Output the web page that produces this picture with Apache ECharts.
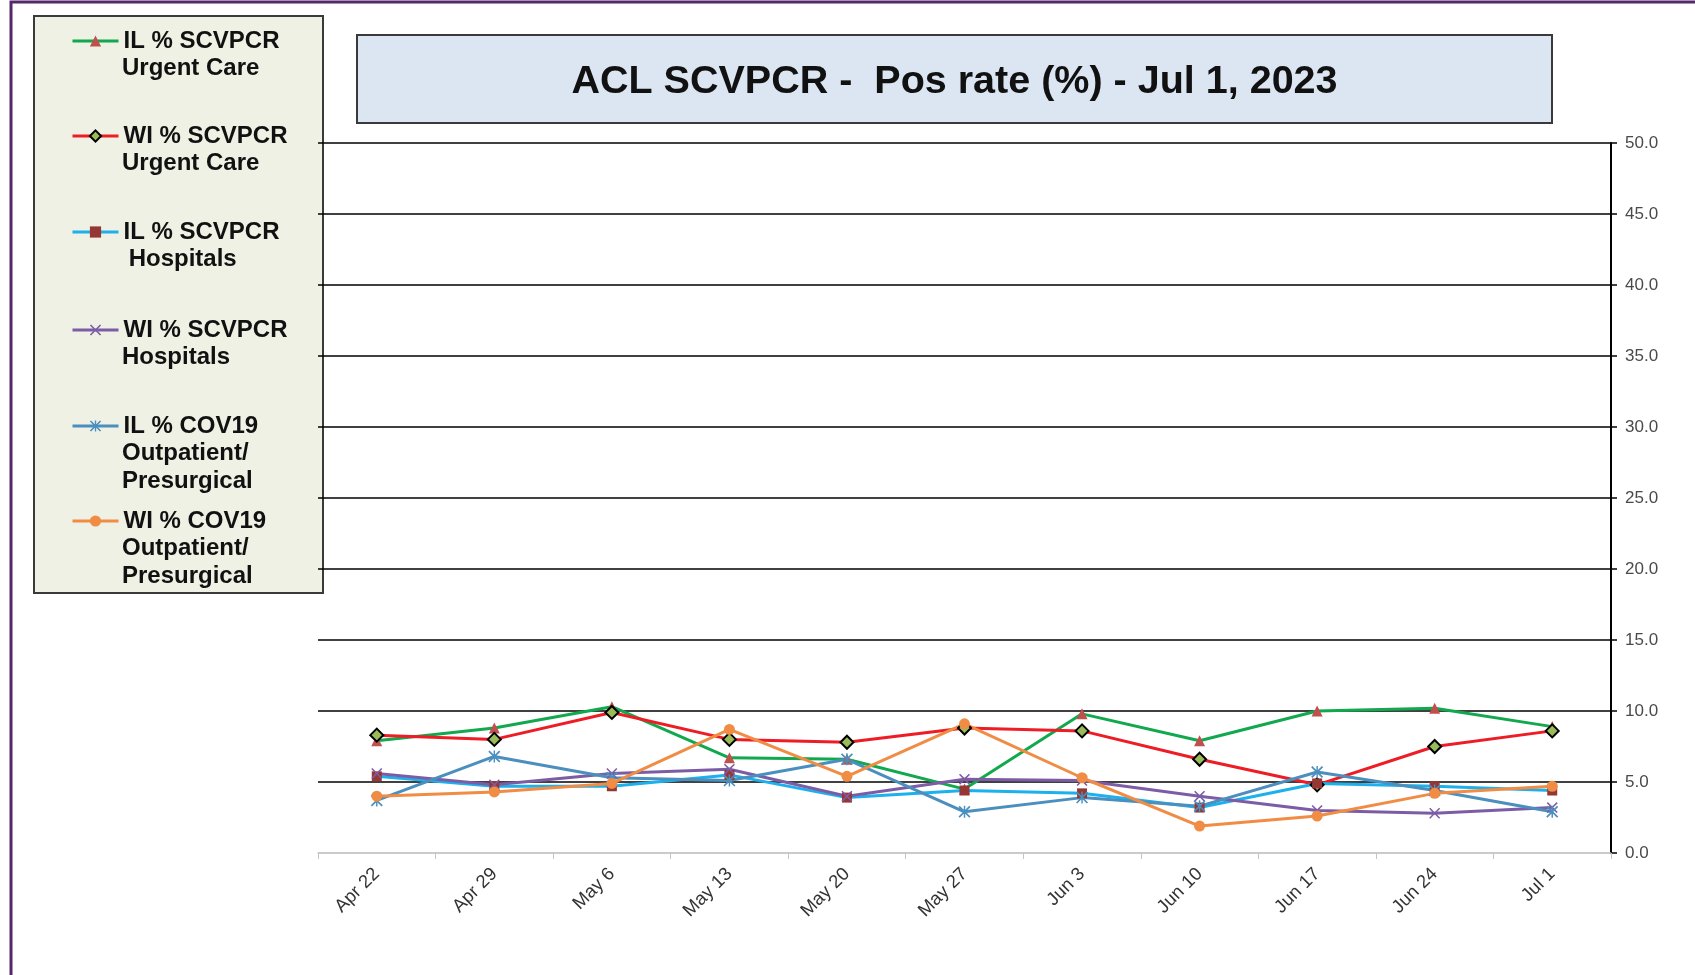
<!DOCTYPE html>
<html><head><meta charset="utf-8">
<script src="https://cdn.jsdelivr.net/npm/echarts@6/dist/echarts.min.js"></script>
<style>html,body{margin:0;padding:0;background:#fff}#c{width:1695px;height:975px}</style>
</head><body><div id="c"></div>
<script>
const categories = ["Apr 22","Apr 29","May 6","May 13","May 20","May 27","Jun 3","Jun 10","Jun 17","Jun 24","Jul 1"];
const ilUrgentCare = [7.9, 8.8, 10.3, 6.7, 6.6, 4.5, 9.8, 7.9, 10.0, 10.2, 8.9];
const wiUrgentCare = [8.3, 8.0, 9.9, 8.0, 7.8, 8.8, 8.6, 6.6, 4.8, 7.5, 8.6];
const ilHospitals = [5.4, 4.7, 4.7, 5.5, 3.9, 4.4, 4.2, 3.2, 4.9, 4.7, 4.4];
const wiHospitals = [5.6, 4.8, 5.6, 5.9, 4.0, 5.2, 5.1, 4.0, 3.0, 2.8, 3.2];
const ilCov19 = [3.7, 6.8, 5.3, 5.1, 6.6, 2.9, 3.9, 3.3, 5.7, 4.4, 2.9];
const wiCov19 = [4.0, 4.3, 4.9, 8.7, 5.4, 9.1, 5.3, 1.9, 2.6, 4.2, 4.7];
const seriesNames = ["IL % SCVPCR Urgent Care","WI % SCVPCR Urgent Care","IL % SCVPCR Hospitals","WI % SCVPCR Hospitals","IL % COV19 Outpatient/Presurgical","WI % COV19 Outpatient/Presurgical"];
const legendLines = [["IL % SCVPCR","Urgent Care"],["WI % SCVPCR","Urgent Care"],["IL % SCVPCR"," Hospitals"],["WI % SCVPCR","Hospitals"],["IL % COV19","Outpatient/","Presurgical"],["WI % COV19","Outpatient/","Presurgical"]];
const titleText = "ACL SCVPCR -  Pos rate (%) - Jul 1, 2023";

const X_SYM = 'path://M0,1L1,0L5,4L9,0L10,1L6,5L10,9L9,10L5,6L1,10L0,9L4,5Z';
const STAR_SYM = 'path://M0,1L1,0L5,4L9,0L10,1L6,5L10,9L9,10L5,6L1,10L0,9L4,5ZM4.4,0L5.6,0L5.6,10L4.4,10Z';
const allData = [ilUrgentCare, wiUrgentCare, ilHospitals, wiHospitals, ilCov19, wiCov19];
const looks = [
  {line:'#12a84e', symbol:'triangle', size:11, fill:'#c0504d', border:'#c0504d', bw:0},
  {line:'#ee1c25', symbol:'diamond', size:13, fill:'#9bbb59', border:'#000000', bw:2},
  {line:'#1cb0ec', symbol:'rect', size:10, fill:'#953735', border:'#953735', bw:0},
  {line:'#7d5ca6', symbol:X_SYM, size:11, fill:'#7d5ca6', border:'#7d5ca6', bw:0},
  {line:'#4a8fbd', symbol:STAR_SYM, size:12, fill:'#4a8fbd', border:'#4a8fbd', bw:0},
  {line:'#f08c44', symbol:'circle', size:11, fill:'#f08c44', border:'#f08c44', bw:0}
];
const legendY = [41, 136, 232, 330, 426, 521];
const font = 'Liberation Sans, Arial, sans-serif';

const series = allData.map((d, i) => ({
  name: seriesNames[i], type: 'line', data: d,
  symbol: looks[i].symbol, symbolSize: looks[i].size,
  lineStyle: {color: looks[i].line, width: 3},
  itemStyle: {color: looks[i].fill, borderColor: looks[i].border, borderWidth: looks[i].bw},
  emphasis: {disabled: true}, animation: false
}));

const legends = seriesNames.map((n, i) => ({
  left: 71, top: legendY[i] - 13.5, orient: 'vertical', padding: 0,
  itemWidth: 46, itemHeight: 14, itemGap: 0, selectedMode: false,
  data: [n], formatter: () => legendLines[i][0],
  lineStyle: {width: 3},
  textStyle: {fontSize: 24, fontWeight: 'bold', lineHeight: 27, color: '#111', fontFamily: font}
}));

const graphics = [
  {type:'rect', z:-10, shape:{x:11, y:2, width:1800, height:1200}, style:{fill:'none', stroke:'#55286a', lineWidth:3}},
  {type:'rect', z:-5, shape:{x:34, y:16, width:289, height:577}, style:{fill:'#eef1e4', stroke:'#3a3a3a', lineWidth:2}},
  {type:'rect', z:-5, shape:{x:357, y:35, width:1195, height:88}, style:{fill:'#dce6f2', stroke:'#3a3a3a', lineWidth:2}},
  {type:'text', z:5, x:954.5, y:82, style:{text:titleText, fill:'#111', font:'bold 39.5px ' + font, textAlign:'center', textVerticalAlign:'middle'}}
];
legendLines.forEach((lines, i) => {
  lines.slice(1).forEach((t, k) => {
    graphics.push({type:'text', z:5, x:122, y:legendY[i] + 27.5 * (k + 1), style:{text:t, fill:'#111', font:'bold 24px ' + font, textAlign:'left', textVerticalAlign:'middle'}});
  });
});

const splitColors = ['#d0d0d0'].concat(Array(10).fill('#000000'));

const chart = echarts.init(document.getElementById('c'));
chart.setOption({
  backgroundColor: '#ffffff',
  animation: false,
  textStyle: {fontFamily: font},
  grid: {left: 318, right: 84, top: 143, bottom: 122, containLabel: false},
  legend: legends,
  xAxis: {
    type: 'category', data: categories, boundaryGap: true,
    axisLine: {lineStyle: {color: '#c4c4c4', width: 1.5}},
    axisTick: {show: true, length: 6, lineStyle: {color: '#c4c4c4'}},
    axisLabel: {rotate: 45, interval: 0, fontSize: 18.5, color: '#333', margin: 18, fontFamily: font}
  },
  yAxis: {
    type: 'value', position: 'right', min: 0, max: 50, interval: 5,
    axisLine: {show: true, lineStyle: {color: '#000', width: 2}},
    axisTick: {show: true, length: 6, lineStyle: {color: '#000', width: 1.5}},
    axisLabel: {formatter: v => v.toFixed(1), fontSize: 17, color: '#4a4a4a', margin: 14, fontFamily: font},
    splitLine: {show: true, lineStyle: {color: splitColors, width: 1.5}}
  },
  graphic: graphics,
  series: series
});
</script></body></html>
